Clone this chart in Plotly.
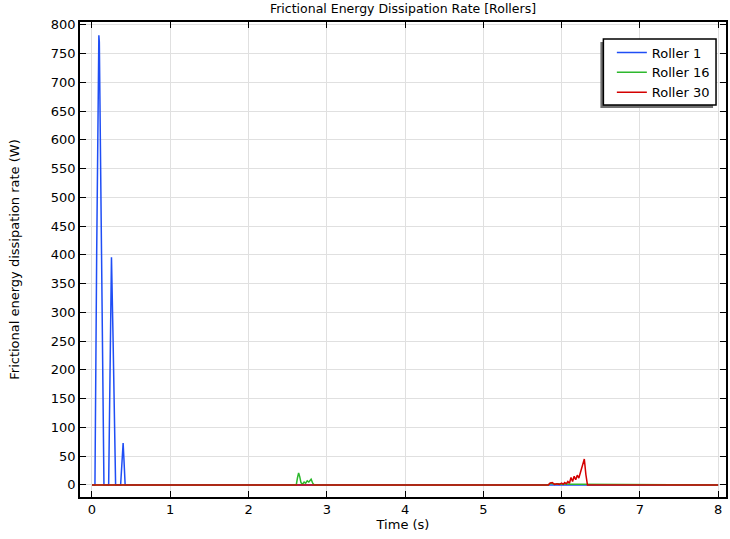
import plotly.graph_objects as go

# Roller 1 (blue)
t_r1 = [0.0, 0.038, 0.060, 0.082, 0.088, 0.094, 0.120, 0.153,
        0.213, 0.230, 0.243, 0.249, 0.270, 0.302,
        0.366, 0.380, 0.393, 0.398, 0.410, 0.424, 8.0]
p_r1 = [0, 0, 400, 770, 782, 770, 400, 0,
        0, 200, 390, 396, 250, 0,
        0, 40, 72, 73, 40, 0, 0]

# Roller 16 (green)
t_r16 = [0.0, 2.61, 2.625, 2.64, 2.655, 2.67, 2.69, 2.71, 2.73, 2.75, 2.77,
         2.79, 2.80, 2.82, 2.84, 5.83, 5.86, 5.88, 5.92, 5.96, 6.00, 6.05,
         6.10, 6.20, 6.30, 6.33, 8.0]
p_r16 = [0, 0, 12, 21, 14, 4, 1, 5, 3, 7, 5,
         9, 10, 3, 0, 0, 3, 2, 1, 2, 1, 2,
         1, 1, 1, 0, 0]

# Roller 30 (red)
t_r30 = [0.0, 5.83, 5.85, 5.88, 5.91, 5.94, 5.97, 6.00, 6.02, 6.04, 6.06,
         6.08, 6.10, 6.12, 6.14, 6.16, 6.18, 6.20, 6.22, 6.25, 6.27, 6.29,
         6.31, 6.33, 8.0]
p_r30 = [0, 0, 3, 4, 1, 2, 1, 3, 1, 4, 2,
         6, 3, 13, 6, 15, 9, 17, 12, 26, 40, 45,
         18, 0, 0]

x_ticks = [0, 1, 2, 3, 4, 5, 6, 7, 8]
y_ticks = list(range(0, 801, 50))

fig = go.Figure()
fig.add_trace(go.Scatter(x=t_r1, y=p_r1, mode="lines", name="Roller 1",
                         line=dict(color="#1f4ef5", width=1.5)))
fig.add_trace(go.Scatter(x=t_r16, y=p_r16, mode="lines", name="Roller 16",
                         line=dict(color="#2db82d", width=1.5)))
fig.add_trace(go.Scatter(x=t_r30, y=p_r30, mode="lines", name="Roller 30",
                         line=dict(color="#d40000", width=1.5)))

axis_common = dict(showline=True, linecolor="black", linewidth=1.5, mirror="allticks",
                   ticks="inside", ticklen=6, tickcolor="black",
                   showgrid=True, gridcolor="#e0e0e0", gridwidth=1, zeroline=False,
                   tickfont=dict(family="DejaVu Sans", size=13, color="black"))

fig.update_xaxes(range=[-0.153, 8.1], tickvals=x_ticks,
                 title=dict(text="Time (s)", font=dict(family="DejaVu Sans", size=13, color="black"), standoff=4),
                 **axis_common)
fig.update_yaxes(range=[-21, 805], tickvals=y_ticks,
                 title=dict(text="Frictional energy dissipation rate (W)", font=dict(family="DejaVu Sans", size=13, color="black"), standoff=28),
                 **axis_common)

W = 648.0
H = 475.0
def px(xp):
    return (xp - 80) / W
def py(yp):
    return (497 - yp) / H

# legend frame with drop shadow (offset down-left)
fig.add_shape(type="rect", xref="paper", yref="paper", layer="above",
              x0=px(602), x1=px(715), y0=py(108), y1=py(42),
              fillcolor="#707070", line=dict(width=0))
fig.add_shape(type="rect", xref="paper", yref="paper", layer="above",
              x0=px(605), x1=px(718), y0=py(105), y1=py(39),
              fillcolor="white", line=dict(color="black", width=1.5))

fig.update_layout(
    width=730, height=539,
    margin=dict(l=80, r=2, t=22, b=42),
    paper_bgcolor="white", plot_bgcolor="white",
    title=dict(text="Frictional Energy Dissipation Rate [Rollers]", xref="paper", x=0.5, xanchor="center",
               y=0.992, yanchor="top",
               font=dict(family="DejaVu Sans", size=12.5, color="black")),
    font=dict(family="DejaVu Sans", size=13, color="black"),
    legend=dict(x=px(613.5), y=py(37.5), xanchor="left", yanchor="top",
                bgcolor="rgba(0,0,0,0)", borderwidth=0,
                font=dict(family="DejaVu Sans", size=13, color="black")),
    showlegend=True,
)

fig.write_html("out.html")
